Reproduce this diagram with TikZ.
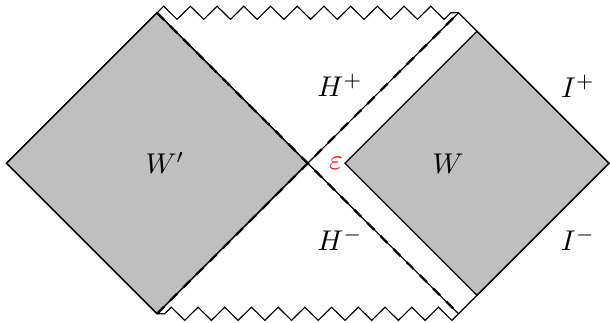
\documentclass[tikz,border=0pt]{standalone}
\usetikzlibrary{decorations.pathmorphing}
\begin{document}
\begin{tikzpicture}[x=0.35pt,y=-0.35pt,
  region/.style={fill=black!25,draw=black},
  horizon/.style={draw=black,dash pattern=on 3.5pt off 3pt,line width=0.8pt},
  sing/.style={decoration={zigzag,segment length=9.35pt,amplitude=2.3pt}},
  lab/.style={anchor=base,inner sep=0pt}]
\useasboundingbox (0,0) rectangle (610,323);
\coordinate (C) at (307.5,163.3);
\coordinate (L) at (6.5,163.3);
\coordinate (T1) at (157,12.8);
\coordinate (B1) at (157,313.8);
\coordinate (TR) at (458.5,12.8);
\coordinate (BR) at (458.5,313.8);
\coordinate (R) at (609,163.3);
\coordinate (WL) at (345,163.3);
\coordinate (WT) at (477,31.3);
\coordinate (WB) at (477,295.3);
\filldraw[region] (L) -- (T1) -- (C) -- (B1) -- cycle;
\filldraw[region] (WL) -- (WT) -- (R) -- (WB) -- cycle;
\draw (L) -- (T1) decorate[sing]{-- (TR)} -- (R) -- (BR) decorate[sing]{-- (B1)} -- cycle;
\draw (T1) -- (BR);
\draw (B1) -- (TR);
\draw[horizon] (T1) -- (BR);
\draw[horizon] (B1) -- (TR);
\node[lab] (wp) at (165,174) {$W'$};
\node[lab] (w) at (448,174) {$W$};
\node[lab] (hp) at (340,97) {$H^+$};
\node[lab] (hm) at (340,250.5) {$H^-$};
\node[lab] (ip) at (578,98) {$I^+$};
\node[lab] (im) at (578,250.5) {$I^-$};
\node[lab,text=red] (eps) at (336,170) {$\varepsilon$};
\end{tikzpicture}
\end{document}
